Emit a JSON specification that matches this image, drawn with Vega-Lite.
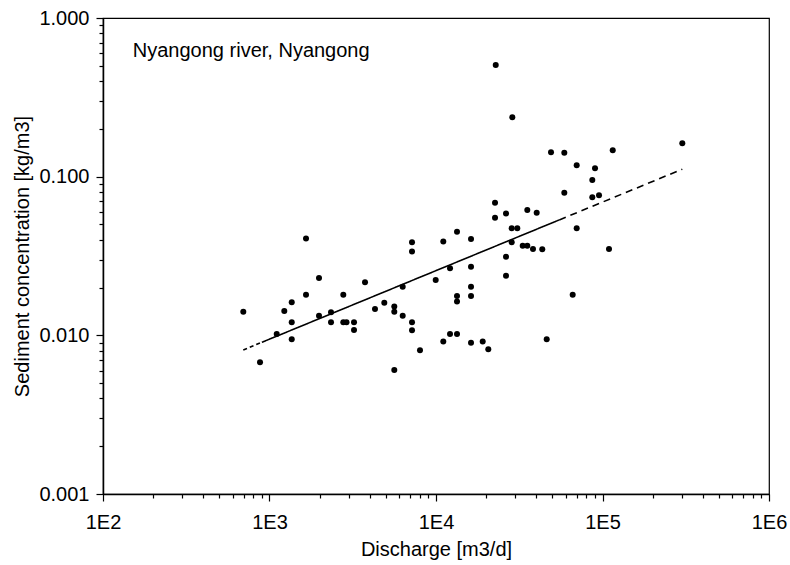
{
  "$schema": "https://vega.github.io/schema/vega-lite/v6.json",
  "autosize": "none",
  "width": 666,
  "height": 476,
  "padding": {"left": 103, "top": 18, "right": 21, "bottom": 71},
  "background": "white",
  "config": {
    "view": {"stroke": "#000", "strokeWidth": 1.2},
    "font": "Liberation Sans",
    "axis": {"grid": false, "domainColor": "#000", "domainWidth": 1.5, "tickColor": "#000", "tickWidth": 1.2, "labelColor": "#000", "titleColor": "#000", "labelFont": "Liberation Sans", "titleFont": "Liberation Sans", "labelFontSize": 20, "titleFontSize": 20, "titleFontWeight": "normal", "labelOverlap": false, "labelFlush": false}
  },
  "datasets": {
    "pts": [
      {"q": 696, "c": 0.0141}, {"q": 877, "c": 0.00677}, {"q": 1105, "c": 0.0102}, {"q": 1227, "c": 0.01425},
      {"q": 1360, "c": 0.01617}, {"q": 1360, "c": 0.01209}, {"q": 1360, "c": 0.00945}, {"q": 1657, "c": 0.0407},
      {"q": 1657, "c": 0.01805}, {"q": 1983, "c": 0.023}, {"q": 1983, "c": 0.0133}, {"q": 2341, "c": 0.01398},
      {"q": 2341, "c": 0.01209}, {"q": 2775, "c": 0.01805}, {"q": 2775, "c": 0.01209}, {"q": 2900, "c": 0.01209},
      {"q": 3218, "c": 0.01209}, {"q": 3218, "c": 0.01081}, {"q": 3747, "c": 0.0216}, {"q": 4301, "c": 0.01467},
      {"q": 4892, "c": 0.01607}, {"q": 5617, "c": 0.01517}, {"q": 5617, "c": 0.0141}, {"q": 5617, "c": 0.00605},
      {"q": 6310, "c": 0.0133}, {"q": 6310, "c": 0.02027}, {"q": 7176, "c": 0.0386}, {"q": 7176, "c": 0.0337},
      {"q": 7176, "c": 0.01209}, {"q": 7176, "c": 0.01076}, {"q": 8015, "c": 0.00805}, {"q": 9958, "c": 0.02234},
      {"q": 11060, "c": 0.039}, {"q": 11060, "c": 0.00913}, {"q": 12140, "c": 0.02647}, {"q": 12140, "c": 0.0102},
      {"q": 13370, "c": 0.045}, {"q": 13370, "c": 0.01771}, {"q": 13370, "c": 0.01631}, {"q": 13370, "c": 0.0102},
      {"q": 16230, "c": 0.0405}, {"q": 16230, "c": 0.0271}, {"q": 16230, "c": 0.02027}, {"q": 16230, "c": 0.01771},
      {"q": 16230, "c": 0.00899}, {"q": 19080, "c": 0.00913}, {"q": 20610, "c": 0.00818}, {"q": 22620, "c": 0.0686},
      {"q": 22620, "c": 0.0551}, {"q": 22840, "c": 0.5057}, {"q": 26330, "c": 0.0585}, {"q": 26330, "c": 0.0313},
      {"q": 26330, "c": 0.02378}, {"q": 28490, "c": 0.0473}, {"q": 30780, "c": 0.0473}, {"q": 28490, "c": 0.0386},
      {"q": 28730, "c": 0.2367}, {"q": 33170, "c": 0.0367}, {"q": 35350, "c": 0.0367}, {"q": 35350, "c": 0.0617},
      {"q": 38240, "c": 0.035}, {"q": 40250, "c": 0.0593}, {"q": 43480, "c": 0.0349}, {"q": 46230, "c": 0.00945},
      {"q": 49060, "c": 0.1425}, {"q": 58970, "c": 0.1416}, {"q": 58970, "c": 0.0793}, {"q": 66220, "c": 0.01805},
      {"q": 69980, "c": 0.118}, {"q": 69980, "c": 0.0473}, {"q": 86850, "c": 0.0953}, {"q": 86850, "c": 0.0742},
      {"q": 90160, "c": 0.113}, {"q": 95280, "c": 0.0763}, {"q": 109400, "c": 0.035}, {"q": 115200, "c": 0.1467},
      {"q": 301500, "c": 0.1624}
    ],
    "fit": [
      {"q": 696, "c": 0.00809, "part": "d1"}, {"q": 900, "c": 0.00904, "part": "d1"},
      {"q": 900, "c": 0.00904, "part": "s"}, {"q": 55000, "c": 0.0534, "part": "s"},
      {"q": 55000, "c": 0.0534, "part": "d2"}, {"q": 301500, "c": 0.1114, "part": "d2"}
    ]
  },
  "layer": [
    {
      "data": {"name": "pts"},
      "mark": {"type": "point", "filled": true, "color": "#000", "opacity": 1, "size": 36},
      "encoding": {
        "x": {
          "field": "q", "type": "quantitative",
          "scale": {"type": "log", "domain": [100, 1000000], "nice": false},
          "axis": {
            "title": "Discharge [m3/d]",
            "values": [100,200,300,400,500,600,700,800,900,1000,2000,3000,4000,5000,6000,7000,8000,9000,10000,20000,30000,40000,50000,60000,70000,80000,90000,100000,200000,300000,400000,500000,600000,700000,800000,900000,1000000],
            "labelExpr": "abs(log(datum.value)/LN10 - round(log(datum.value)/LN10)) < 1e-6 ? '1E' + round(log(datum.value)/LN10) : ''",
            "tickSize": {"condition": {"test": "abs(log(datum.value)/LN10 - round(log(datum.value)/LN10)) < 1e-6", "value": 7}, "value": 4},
            "labelPadding": 11,
            "titlePadding": 7
          }
        },
        "y": {
          "field": "c", "type": "quantitative",
          "scale": {"type": "log", "domain": [0.001, 1], "nice": false},
          "axis": {
            "title": "Sediment concentration [kg/m3]",
            "values": [0.001,0.002,0.003,0.004,0.005,0.006,0.007,0.008,0.009,0.01,0.02,0.03,0.04,0.05,0.06,0.07,0.08,0.09,0.1,0.2,0.3,0.4,0.5,0.6,0.7,0.8,0.9,1],
            "labelExpr": "abs(log(datum.value)/LN10 - round(log(datum.value)/LN10)) < 1e-6 ? format(datum.value, '.3f') : ''",
            "tickSize": {"condition": {"test": "abs(log(datum.value)/LN10 - round(log(datum.value)/LN10)) < 1e-6", "value": 7}, "value": 4},
            "labelPadding": 7,
            "titlePadding": 6
          }
        }
      }
    },
    {
      "data": {"name": "fit"},
      "mark": {"type": "line", "color": "#000", "strokeWidth": 1.6},
      "encoding": {
        "x": {"field": "q", "type": "quantitative"},
        "y": {"field": "c", "type": "quantitative"},
        "detail": {"field": "part"},
        "strokeDash": {"field": "part", "type": "nominal", "scale": {"domain": ["d1", "s", "d2"], "range": [[4, 3], [1, 0], [7, 5]]}, "legend": null}
      }
    },
    {
      "data": {"values": [{"label": "Nyangong river, Nyangong"}]},
      "mark": {"type": "text", "align": "left", "baseline": "alphabetic", "fontSize": 20, "font": "Liberation Sans", "color": "#000"},
      "encoding": {
        "text": {"field": "label", "type": "nominal"},
        "x": {"datum": 151, "type": "quantitative"},
        "y": {"datum": 0.57, "type": "quantitative"}
      }
    }
  ]
}
